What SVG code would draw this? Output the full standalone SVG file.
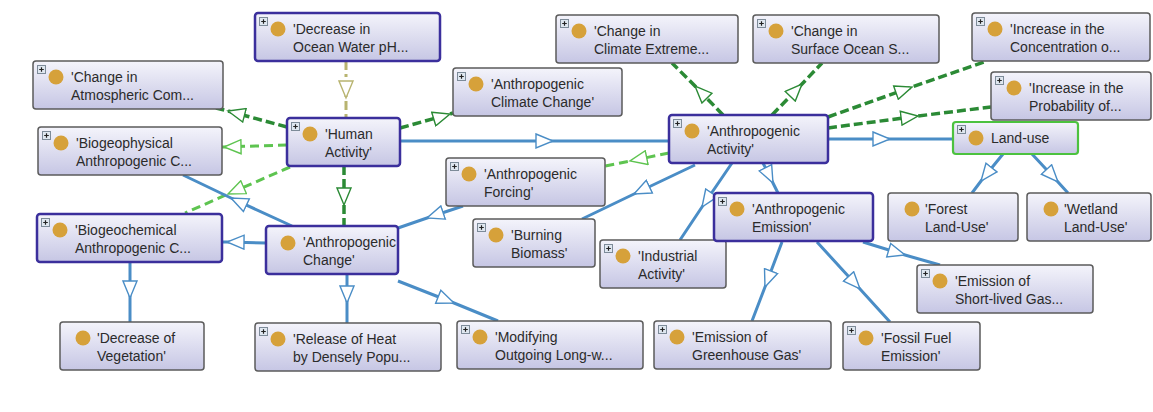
<svg xmlns="http://www.w3.org/2000/svg" width="1153" height="412" viewBox="0 0 1153 412">
<defs>
<linearGradient id="g" x1="0" y1="0" x2="0" y2="1">
<stop offset="0" stop-color="#f4f4fb"/>
<stop offset="1" stop-color="#c6c6e4"/>
</linearGradient>
<marker id="ab" viewBox="-1 -1 20 16" refX="17" refY="7" markerWidth="20" markerHeight="16" markerUnits="userSpaceOnUse" orient="auto"><path d="M0,0 L17,7 L0,14 Z" fill="#fff" stroke="#4a8dc6" stroke-width="1.4"/></marker>
<marker id="adg" viewBox="-1 -1 20 16" refX="17" refY="7" markerWidth="20" markerHeight="16" markerUnits="userSpaceOnUse" orient="auto"><path d="M0,0 L17,7 L0,14 Z" fill="#fff" stroke="#2b8a35" stroke-width="1.4"/></marker>
<marker id="alg" viewBox="-1 -1 20 16" refX="17" refY="7" markerWidth="20" markerHeight="16" markerUnits="userSpaceOnUse" orient="auto"><path d="M0,0 L17,7 L0,14 Z" fill="#fff" stroke="#5ec450" stroke-width="1.4"/></marker>
<marker id="aol" viewBox="-1 -1 20 16" refX="17" refY="7" markerWidth="20" markerHeight="16" markerUnits="userSpaceOnUse" orient="auto"><path d="M0,0 L17,7 L0,14 Z" fill="#fff" stroke="#b8b470" stroke-width="1.4"/></marker>
<g id="plus">
<rect x="0.5" y="0.5" width="8" height="8" fill="#dfe7f0" stroke="#7d8b99" stroke-width="1"/>
<path d="M2.2,4.5 H6.8 M4.5,2.2 V6.8" stroke="#222" stroke-width="1.2"/>
</g>
</defs>
<style>
.box{fill:url(#g);stroke:#5b5b5b;stroke-width:1.5}
.pu .box{stroke:#3b2f9c;stroke-width:2.5}
.gn .box{stroke:#4cc23f;stroke-width:2.2}
.dot{fill:#d6a13a}
text{font-family:"Liberation Sans",Arial,sans-serif;font-size:14px;fill:#2b2b2b}
.e{fill:none}
.b{stroke:#4a8dc6;stroke-width:3;marker-mid:url(#ab)}
.dg{stroke:#2b8a35;stroke-width:3.5;stroke-dasharray:9 4;marker-mid:url(#adg)}
.lg{stroke:#5ec450;stroke-width:3;stroke-dasharray:9 5;marker-mid:url(#alg)}
.ol{stroke:#b8b470;stroke-width:3;stroke-dasharray:9 4 3 4;marker-mid:url(#aol)}
</style>
<rect width="1153" height="412" fill="#fff"/>
<g id="connectors">
<path class="e ol" d="M346,61 L346,98 L346,118"/>
<path class="e dg" d="M287,127 L228,111 L216,108"/>
<path class="e dg" d="M400,128 L450,114 L453,113"/>
<path class="e lg" d="M287,145 L224,147 L222,147"/>
<path class="e lg" d="M290,167 L228,194 L185,213"/>
<path class="e dg" d="M344,166 L344,205 L344,226"/>
<path class="e b" d="M400,141 L553,141 L669,141"/>
<path class="e b" d="M292,226 L231,198 L183,175"/>
<path class="e b" d="M266,243 L227,242 L222,242"/>
<path class="e b" d="M130,262 L130,298 L130,322"/>
<path class="e b" d="M347,274 L347,303 L347,323"/>
<path class="e b" d="M398,281 L454,303 L498,321"/>
<path class="e b" d="M463,206 L427,218 L398,228"/>
<path class="e lg" d="M669,153 L630,161 L605,166"/>
<path class="e b" d="M695,165 L634,194 L582,219"/>
<path class="e b" d="M732,163 L702,207 L680,240"/>
<path class="e b" d="M763,163 L773,183 L778,193"/>
<path class="e b" d="M828,139 L890,139 L953,139"/>
<path class="e dg" d="M723,115 L695,86 L672,63"/>
<path class="e dg" d="M772,115 L802,84 L822,63"/>
<path class="e dg" d="M828,117 L912,87 L987,61"/>
<path class="e dg" d="M828,128 L918,116 L991,107"/>
<path class="e b" d="M1003,154 L981,181 L972,193"/>
<path class="e b" d="M1032,154 L1058,182 L1068,193"/>
<path class="e b" d="M782,242 L765,287 L752,321"/>
<path class="e b" d="M817,242 L860,289 L890,322"/>
<path class="e b" d="M863,242 L905,255 L940,265"/>
</g>
<g id="n-ocean" class="pu" transform="translate(255,13)"><rect class="box" width="185" height="48" rx="3"/><use href="#plus" x="4" y="4"/><circle class="dot" cx="23" cy="16" r="7.5"/><text x="38" y="21">'Decrease in</text><text x="38" y="39">Ocean Water pH...</text></g>
<g id="n-atmos" transform="translate(33,61)"><rect class="box" width="190" height="48" rx="3"/><use href="#plus" x="4" y="4"/><circle class="dot" cx="23" cy="16" r="7.5"/><text x="38" y="21">'Change in</text><text x="38" y="39">Atmospheric Com...</text></g>
<g id="n-human" class="pu" transform="translate(287,118)"><rect class="box" width="113" height="48" rx="3"/><use href="#plus" x="4" y="4"/><circle class="dot" cx="23" cy="16" r="7.5"/><text x="38" y="21">'Human</text><text x="38" y="39">Activity'</text></g>
<g id="n-acc" transform="translate(453,68)"><rect class="box" width="169" height="48" rx="3"/><use href="#plus" x="4" y="4"/><circle class="dot" cx="23" cy="16" r="7.5"/><text x="38" y="21">'Anthropogenic</text><text x="38" y="39">Climate Change'</text></g>
<g id="n-extreme" transform="translate(556,15)"><rect class="box" width="182" height="48" rx="3"/><use href="#plus" x="4" y="4"/><circle class="dot" cx="23" cy="16" r="7.5"/><text x="38" y="21">'Change in</text><text x="38" y="39">Climate Extreme...</text></g>
<g id="n-surface" transform="translate(753,15)"><rect class="box" width="186" height="48" rx="3"/><use href="#plus" x="4" y="4"/><circle class="dot" cx="23" cy="16" r="7.5"/><text x="38" y="21">'Change in</text><text x="38" y="39">Surface Ocean S...</text></g>
<g id="n-conc" transform="translate(972,13)"><rect class="box" width="178" height="48" rx="3"/><use href="#plus" x="4" y="4"/><circle class="dot" cx="23" cy="16" r="7.5"/><text x="38" y="21">'Increase in the</text><text x="38" y="39">Concentration o...</text></g>
<g id="n-prob" transform="translate(991,72)"><rect class="box" width="160" height="48" rx="3"/><use href="#plus" x="4" y="4"/><circle class="dot" cx="23" cy="16" r="7.5"/><text x="38" y="21">'Increase in the</text><text x="38" y="39">Probability of...</text></g>
<g id="n-activity" class="pu" transform="translate(669,115)"><rect class="box" width="159" height="48" rx="3"/><use href="#plus" x="4" y="4"/><circle class="dot" cx="23" cy="16" r="7.5"/><text x="38" y="21">'Anthropogenic</text><text x="38" y="39">Activity'</text></g>
<g id="n-landuse" class="gn" transform="translate(953,122)"><rect class="box" width="125" height="32" rx="3"/><use href="#plus" x="4" y="3"/><circle class="dot" cx="23" cy="16" r="7.5"/><text x="38" y="21">Land-use</text></g>
<g id="n-biophys" transform="translate(38,127)"><rect class="box" width="184" height="48" rx="3"/><use href="#plus" x="4" y="4"/><circle class="dot" cx="23" cy="16" r="7.5"/><text x="38" y="21">'Biogeophysical</text><text x="38" y="39">Anthropogenic C...</text></g>
<g id="n-biochem" class="pu" transform="translate(37,214)"><rect class="box" width="185" height="48" rx="3"/><use href="#plus" x="4" y="4"/><circle class="dot" cx="23" cy="16" r="7.5"/><text x="38" y="21">'Biogeochemical</text><text x="38" y="39">Anthropogenic C...</text></g>
<g id="n-change" class="pu" transform="translate(266,226)"><rect class="box" width="132" height="48" rx="3"/><circle class="dot" cx="22" cy="17" r="7.5"/><text x="37" y="21">'Anthropogenic</text><text x="37" y="39">Change'</text></g>
<g id="n-forcing" transform="translate(446,158)"><rect class="box" width="159" height="48" rx="3"/><use href="#plus" x="4" y="4"/><circle class="dot" cx="23" cy="16" r="7.5"/><text x="38" y="21">'Anthropogenic</text><text x="38" y="39">Forcing'</text></g>
<g id="n-burning" transform="translate(473,219)"><rect class="box" width="122" height="48" rx="3"/><use href="#plus" x="4" y="4"/><circle class="dot" cx="23" cy="16" r="7.5"/><text x="38" y="21">'Burning</text><text x="38" y="39">Biomass'</text></g>
<g id="n-industrial" transform="translate(600,240)"><rect class="box" width="126" height="48" rx="3"/><use href="#plus" x="4" y="4"/><circle class="dot" cx="23" cy="16" r="7.5"/><text x="38" y="21">'Industrial</text><text x="38" y="39">Activity'</text></g>
<g id="n-emission" class="pu" transform="translate(714,193)"><rect class="box" width="159" height="48" rx="3"/><use href="#plus" x="4" y="4"/><circle class="dot" cx="23" cy="16" r="7.5"/><text x="38" y="21">'Anthropogenic</text><text x="38" y="39">Emission'</text></g>
<g id="n-forest" transform="translate(888,193)"><rect class="box" width="130" height="48" rx="3"/><circle class="dot" cx="24" cy="16" r="7.5"/><text x="37" y="21">'Forest</text><text x="37" y="39">Land-Use'</text></g>
<g id="n-wetland" transform="translate(1027,193)"><rect class="box" width="124" height="48" rx="3"/><circle class="dot" cx="24" cy="16" r="7.5"/><text x="37" y="21">'Wetland</text><text x="37" y="39">Land-Use'</text></g>
<g id="n-shortlived" transform="translate(917,265)"><rect class="box" width="176" height="48" rx="3"/><use href="#plus" x="4" y="4"/><circle class="dot" cx="23" cy="16" r="7.5"/><text x="38" y="21">'Emission of</text><text x="38" y="39">Short-lived Gas...</text></g>
<g id="n-veg" transform="translate(60,322)"><rect class="box" width="144" height="48" rx="3"/><circle class="dot" cx="23" cy="16" r="7.5"/><text x="37" y="21">'Decrease of</text><text x="37" y="39">Vegetation'</text></g>
<g id="n-heat" transform="translate(255,323)"><rect class="box" width="186" height="48" rx="3"/><use href="#plus" x="4" y="4"/><circle class="dot" cx="23" cy="16" r="7.5"/><text x="38" y="21">'Release of Heat</text><text x="38" y="39">by Densely Popu...</text></g>
<g id="n-modifying" transform="translate(457,321)"><rect class="box" width="186" height="48" rx="3"/><use href="#plus" x="4" y="4"/><circle class="dot" cx="23" cy="16" r="7.5"/><text x="38" y="21">'Modifying</text><text x="38" y="39">Outgoing Long-w...</text></g>
<g id="n-greenhouse" transform="translate(654,321)"><rect class="box" width="177" height="48" rx="3"/><use href="#plus" x="4" y="4"/><circle class="dot" cx="23" cy="16" r="7.5"/><text x="38" y="21">'Emission of</text><text x="38" y="39">Greenhouse Gas'</text></g>
<g id="n-fossil" transform="translate(843,322)"><rect class="box" width="137" height="48" rx="3"/><use href="#plus" x="4" y="4"/><circle class="dot" cx="23" cy="16" r="7.5"/><text x="38" y="21">'Fossil Fuel</text><text x="38" y="39">Emission'</text></g>
</svg>
